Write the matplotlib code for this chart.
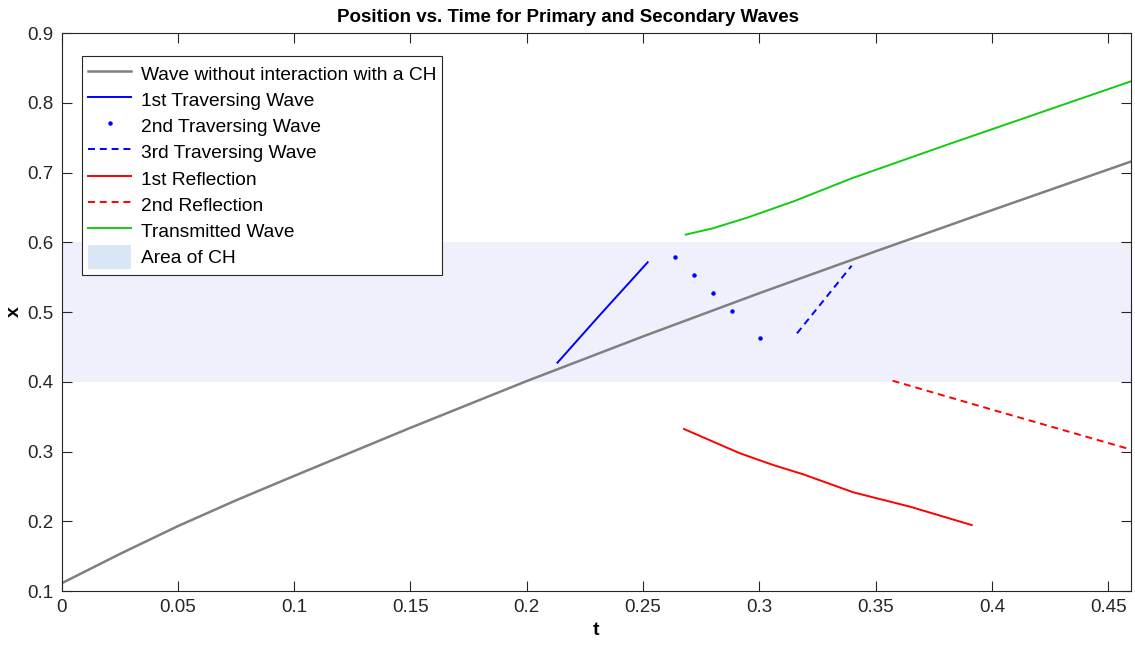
import matplotlib.pyplot as plt
from matplotlib.patches import Patch
from matplotlib.lines import Line2D

plt.rcParams['font.family'] = ['Liberation Sans', 'DejaVu Sans']
plt.rcParams['lines.scale_dashes'] = False

# values
gray_t = [0.000, 0.025, 0.05, 0.075, 0.1, 0.15, 0.2, 0.25, 0.3, 0.35, 0.4, 0.46]
gray_x = [0.111, 0.153, 0.193, 0.230, 0.265, 0.334, 0.401, 0.465, 0.527, 0.587, 0.646, 0.716]

trav1_t = [0.2132, 0.2308, 0.2520]
trav1_x = [0.4273, 0.4933, 0.5713]

trav2_t = [0.2639, 0.2719, 0.2800, 0.2881, 0.3005]
trav2_x = [0.5790, 0.5535, 0.5277, 0.5014, 0.4632]

trav3_t = [0.3162, 0.3397]
trav3_x = [0.4694, 0.5664]

refl1_t = [0.2676, 0.2917, 0.3060, 0.3189, 0.3404, 0.3648, 0.3913]
refl1_x = [0.3323, 0.2974, 0.2806, 0.2673, 0.2415, 0.2209, 0.1946]

refl2_t = [0.3573, 0.4006, 0.4594]
refl2_x = [0.4015, 0.3595, 0.3032]

trans_t = [0.2684, 0.280, 0.295, 0.315, 0.340, 0.380, 0.420, 0.460]
trans_x = [0.611, 0.620, 0.6355, 0.659, 0.692, 0.739, 0.785, 0.831]

ch_low, ch_high = 0.4, 0.6

fig = plt.figure(figsize=(11.35, 6.46), dpi=100)
ax = fig.add_axes([0.0542, 0.0851, 0.9427, 0.8638])

ax.axhspan(ch_low, ch_high, color='#f0f0fc', lw=0, zorder=0)
ax.plot(gray_t, gray_x, color='#808080', lw=1.8)
ax.plot(trav1_t, trav1_x, color='#0000ff', lw=1.4)
ax.plot(trav2_t, trav2_x, color='#0000ff', ls='none', marker='o', ms=2.2)
ax.plot(trav3_t, trav3_x, color='#0000ff', lw=1.4, dashes=(5, 3.5))
ax.plot(refl1_t, refl1_x, color='#ff0000', lw=1.4)
ax.plot(refl2_t, refl2_x, color='#ff0000', lw=1.4, dashes=(5, 3.5))
ax.plot(trans_t, trans_x, color='#11cc11', lw=1.4)

ax.set_xlim(0, 0.46)
ax.set_ylim(0.1, 0.9)
ax.set_xticks([0, 0.05, 0.1, 0.15, 0.2, 0.25, 0.3, 0.35, 0.4, 0.45])
ax.set_xticklabels(['0', '0.05', '0.1', '0.15', '0.2', '0.25', '0.3', '0.35', '0.4', '0.45'])
ax.set_yticks([0.1, 0.2, 0.3, 0.4, 0.5, 0.6, 0.7, 0.8, 0.9])
ax.set_yticklabels(['0.1', '0.2', '0.3', '0.4', '0.5', '0.6', '0.7', '0.8', '0.9'])
ax.tick_params(direction='in', length=7, width=0.8, top=True, right=True,
               labelsize=13.5, colors='#262626', pad=6)
for s in ax.spines.values():
    s.set_color('#262626')
    s.set_linewidth(0.8)

ax.set_title('Position vs. Time for Primary and Secondary Waves',
             fontsize=13.5, fontweight='bold', pad=8, x=0.4736)
ax.set_xlabel('t', fontsize=14, fontweight='bold', labelpad=4)
ax.set_ylabel('x', fontsize=14, fontweight='bold', labelpad=3)

handles = [
    Line2D([], [], color='#808080', lw=1.8),
    Line2D([], [], color='#0000ff', lw=1.4),
    Line2D([], [], color='#0000ff', ls='none', marker='o', ms=2.2),
    Line2D([], [], color='#0000ff', lw=1.4, dashes=(5, 3.5)),
    Line2D([], [], color='#ff0000', lw=1.4),
    Line2D([], [], color='#ff0000', lw=1.4, dashes=(5, 3.5)),
    Line2D([], [], color='#11cc11', lw=1.4),
    Patch(facecolor='#dae7f7', edgecolor='none'),
]
labels = ['Wave without interaction with a CH', '1st Traversing Wave',
          '2nd Traversing Wave', '3rd Traversing Wave', '1st Reflection',
          '2nd Reflection', 'Transmitted Wave', 'Area of CH']
leg = ax.legend(handles, labels, loc='upper left', bbox_to_anchor=(0.0195, 0.959),
                fontsize=13.8, frameon=True, fancybox=False, framealpha=1,
                edgecolor='#262626', borderaxespad=0, handlelength=2.25,
                handleheight=1.5, handletextpad=0.5, labelspacing=0.15,
                borderpad=0.3)
leg.get_frame().set_linewidth(0.8)

fig.savefig('out.png', dpi=100)
